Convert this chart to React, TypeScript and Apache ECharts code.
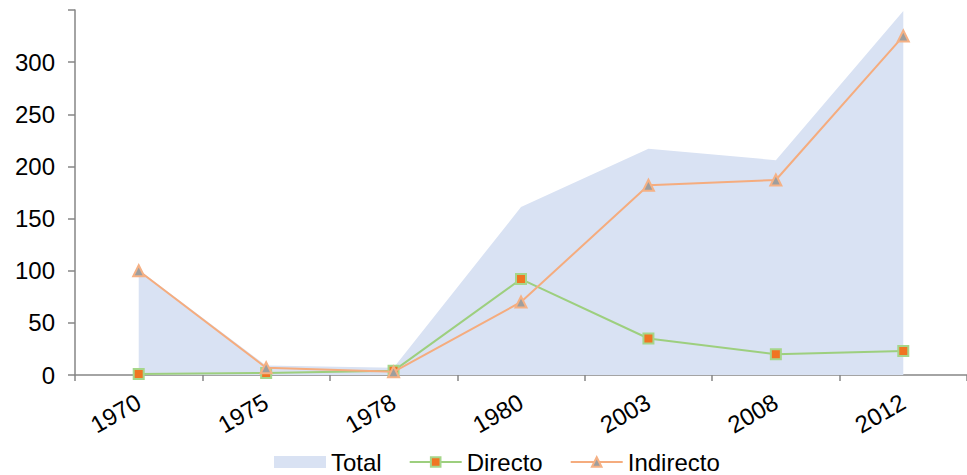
import React, { useEffect, useRef } from "react";
import * as echarts from "echarts";

const categories = ["1970", "1975", "1978", "1980", "2003", "2008", "2012"];
const totalValues = [101, 9, 7, 161, 217, 206, 349];
const directoValues = [1, 2, 4, 92, 35, 20, 23];
const indirectoValues = [100, 7, 3, 70, 182, 187, 325];
const yTicks = { min: 0, max: 350, interval: 50 };

export default function App() {
  const ref = useRef<HTMLDivElement>(null);
  useEffect(() => {
    if (!ref.current) return;
    const chart = echarts.init(ref.current, null, { renderer: "svg" });
    const font = "'Liberation Sans', Arial, sans-serif";
    chart.setOption({
      animation: false,
      textStyle: { fontFamily: font },
      grid: { left: 75, right: -4, top: 10, bottom: 100, containLabel: false },
      legend: {
        bottom: -4,
        left: 269,
        itemWidth: 52,
        itemHeight: 12,
        itemGap: 27,
        textStyle: { fontSize: 24, color: "#000", fontFamily: font },
        data: [
          { name: "Total", icon: "rect" },
          { name: "Directo" },
          { name: "Indirecto" },
        ],
      },
      xAxis: {
        type: "category",
        data: categories,
        boundaryGap: true,
        axisLine: { lineStyle: { color: "#868686", width: 1.5 } },
        axisTick: { show: true, interval: 0, length: 6, lineStyle: { color: "#868686", width: 1.5 } },
        axisLabel: { rotate: 30, fontSize: 24, color: "#000", margin: 25, interval: 0, fontFamily: font },
        splitLine: { show: false },
      },
      yAxis: {
        type: "value",
        min: yTicks.min,
        max: yTicks.max,
        interval: yTicks.interval,
        axisLine: { show: true, lineStyle: { color: "#868686", width: 1.5 } },
        axisTick: { show: true, length: 7, lineStyle: { color: "#868686", width: 1.5 } },
        axisLabel: {
          fontSize: 24,
          color: "#000",
          margin: 20,
          fontFamily: font,
          formatter: (v: number) => (v === 350 ? "" : String(v)),
        },
        splitLine: { show: false },
      },
      series: [
        {
          name: "Total",
          type: "line",
          data: totalValues,
          symbol: "none",
          lineStyle: { width: 0, color: "#D9E2F3" },
          itemStyle: { color: "#D9E2F3" },
          areaStyle: { color: "#D9E2F3", opacity: 1 },
          z: 1,
        },
        {
          name: "Directo",
          type: "line",
          data: directoValues,
          symbol: "rect",
          symbolSize: 10,
          lineStyle: { color: "#9DCF7E", width: 2 },
          itemStyle: { color: "#F07522", borderColor: "#A6D68A", borderWidth: 2 },
          z: 3,
        },
        {
          name: "Indirecto",
          type: "line",
          data: indirectoValues,
          symbol: "triangle",
          symbolSize: 11,
          lineStyle: { color: "#F5AC7E", width: 2 },
          itemStyle: { color: "#9E9E9E", borderColor: "#F5B185", borderWidth: 2 },
          z: 4,
        },
      ],
    });
    return () => chart.dispose();
  }, []);
  return <div ref={ref} style={{ width: 967, height: 475, position: "absolute", left: 0, top: 0 }} />;
}
